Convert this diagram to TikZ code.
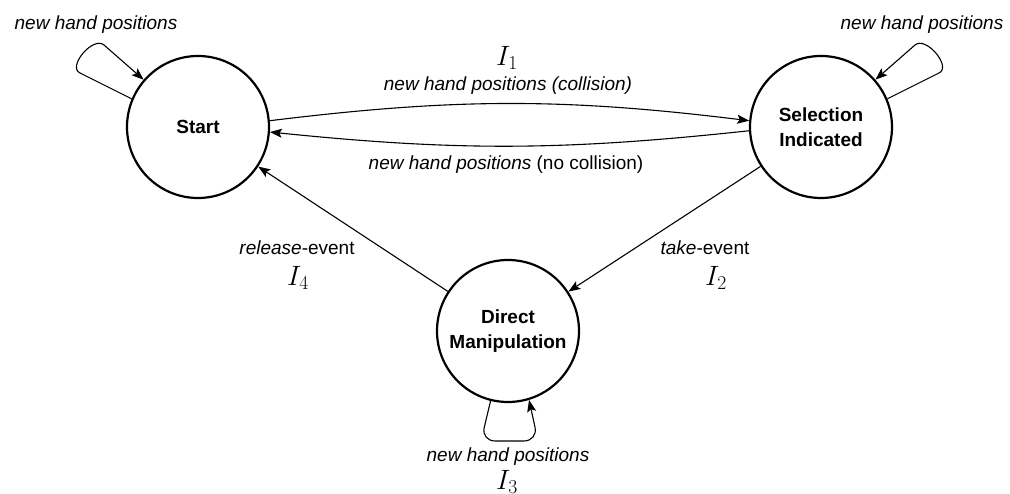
\RequirePackage{fix-cm}
\documentclass[tikz,border=0pt]{standalone}
\usepackage{fontspec}
\setmainfont{Liberation Sans}
\usetikzlibrary{arrows.meta}
\begin{document}
\begin{tikzpicture}[x=1pt,y=1pt,
  state/.style={circle, draw, line width=2.2pt, minimum size=142pt, inner sep=0pt,
    font=\bfseries\fontsize{19}{25}\selectfont, align=center},
  lbl/.style={inner sep=0pt, font=\fontsize{19}{23}\selectfont},
  mlbl/.style={inner sep=0pt, font=\fontsize{28}{32}\selectfont},
  arr/.style={-{Stealth[length=12pt,width=9pt,inset=2.5pt]}, line width=1.1pt}]
\useasboundingbox (0,0) rectangle (1010,494);
\node[state] (S) at (198,367) {Start};
\node[state] (SI) at (821,367) {Selection\\Indicated};
\node[state] (DM) at (508,163) {Direct\\Manipulation};
% loop corners
\coordinate (sa) at (80,421);
\coordinate (sb) at (104,449);
\coordinate (ta) at (939,421);
\coordinate (tb) at (915,449);
\coordinate (da) at (481,53);
\coordinate (db) at (538,53);
% loops
\draw[arr] (S.157) -- (sa) to[out=155,in=140] (sb) -- (S.139);
\draw[arr] (SI.23) -- (ta) to[out=25,in=40] (tb) -- (SI.41);
\draw[arr, rounded corners=14pt] (DM.256) -- (da) -- (db) -- (DM.287);
% transitions
\draw[arr] (S.5) to[bend left=7] (SI.175);
\draw[arr] (SI.183) to[bend left=6] (S.-4);
\draw[arr] (SI) -- (DM);
\draw[arr] (DM) -- (S);
% labels
\node[lbl] (l1) at (96,469) {\itshape new hand positions};
\node[lbl] (l2) at (922,469) {\itshape new hand positions};
\node[mlbl] (i1) at (507,436) {$I_1$};
\node[lbl] (l3) at (508,408) {\itshape new hand positions (collision)};
\node[lbl] (l4) at (506,329) {\textit{new hand positions} (no collision)};
\node[lbl] (l5) at (297,246) {\textit{release}-event};
\node[mlbl] (i4) at (298,216) {$I_4$};
\node[lbl] (l6) at (705,246) {\textit{take}-event};
\node[mlbl] (i2) at (716,216) {$I_2$};
\node[lbl] (l7) at (508,37) {\itshape new hand positions};
\node[mlbl] (i3) at (507,12) {$I_3$};
\end{tikzpicture}
\end{document}
